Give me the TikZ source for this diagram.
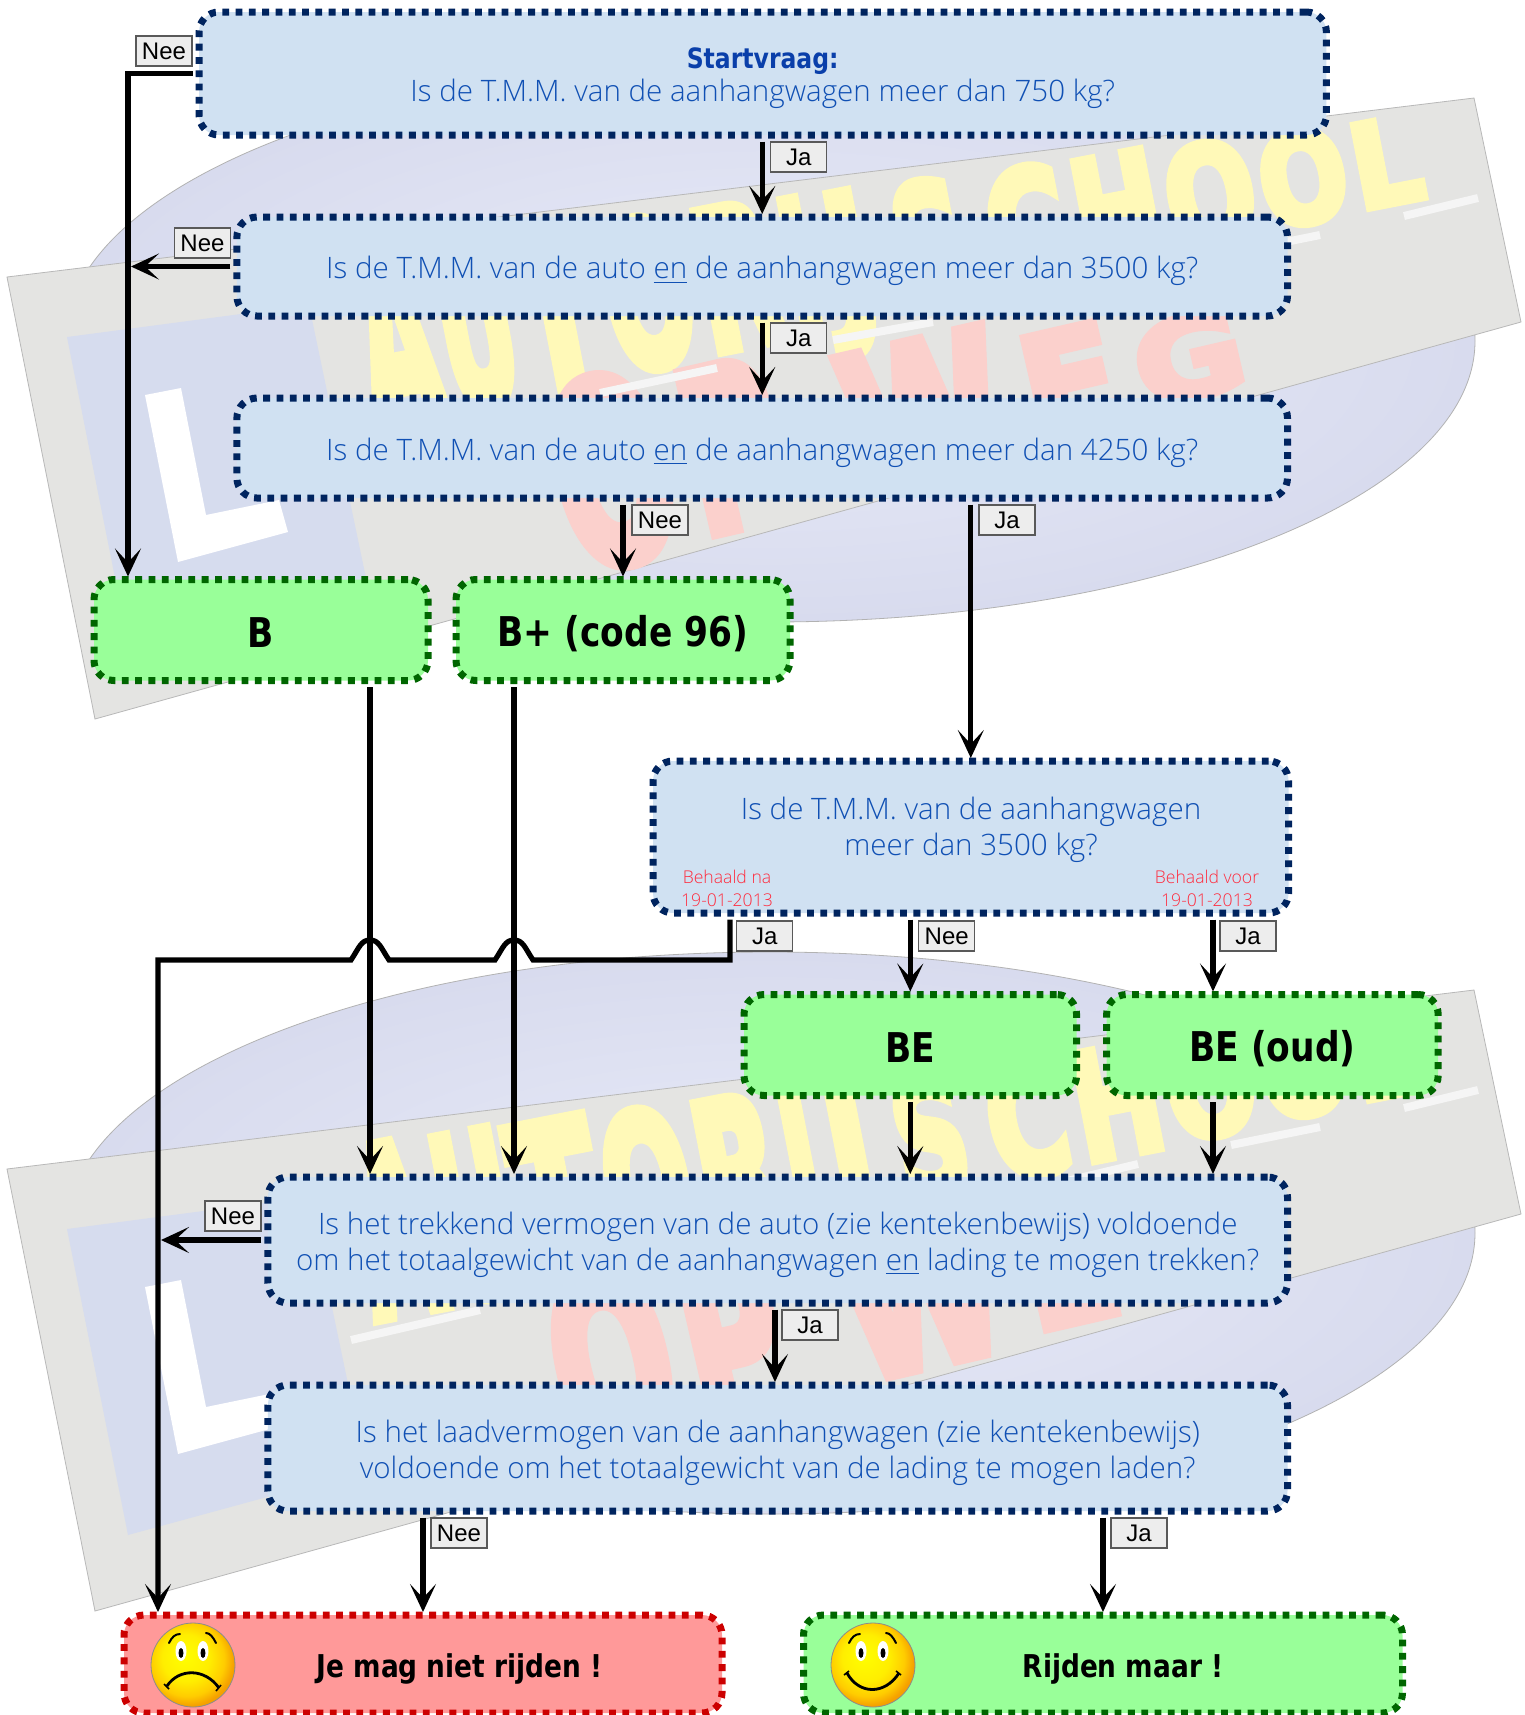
\documentclass[tikz,border=0pt]{standalone}
\usepackage{fontspec}
\usepackage{graphicx}
\usetikzlibrary{arrows.meta,calc}
\setmainfont{Open Sans Light}
\newfontfamily\labf{Liberation Sans}
\newfontfamily\tahb[FakeStretch=0.84]{DejaVu Sans Bold}
\newfontfamily\wmf[FakeBold=6]{DejaVu Sans Bold}
\definecolor{qfill}{HTML}{D0E1F2}
\definecolor{qline}{HTML}{00245F}
\definecolor{qtxt}{HTML}{1050B4}
\definecolor{qbold}{HTML}{0A3FAA}
\definecolor{rsmall}{HTML}{FF2A3C}
\definecolor{gfill}{HTML}{99FF99}
\definecolor{gline}{HTML}{006600}
\definecolor{rfill}{HTML}{FF9999}
\definecolor{rline}{HTML}{CC0000}
\definecolor{wgray}{HTML}{E4E4E2}
\definecolor{wblue}{HTML}{D6DCEE}
\definecolor{wyel}{HTML}{FFF9B8}
\definecolor{wred}{HTML}{FBD0CC}
\definecolor{ein}{HTML}{E9ECF9}
\definecolor{eout}{HTML}{D8DBEE}
\definecolor{sma}{HTML}{FFFF00}
\definecolor{smb}{HTML}{FFEE00}
\definecolor{smc}{HTML}{FFCC00}
\definecolor{smd}{HTML}{F5A000}
\pgfdeclareradialshading{smile}{\pgfpoint{-6bp}{6bp}}{color(0bp)=(sma); color(14bp)=(smb); color(22bp)=(smc); color(27bp)=(smd); color(50bp)=(smd)}
\newcommand\qfont{\fontsize{14.77}{18}\selectfont}
\tikzset{
  boxbase/.style={draw,line width=3.5pt,dash pattern=on 3.4pt off 3.25pt,rounded corners=10pt,outer sep=0pt,inner sep=0pt,align=center},
  qbox/.style={boxbase,draw=qline,fill=qfill},
  gbox/.style={boxbase,draw=gline,fill=gfill},
  rbox/.style={boxbase,draw=rline,fill=rfill},
  lab/.style={draw=black!65,line width=0.7pt,fill=black!7,minimum width=28pt,minimum height=15pt,inner sep=0pt,outer sep=0pt,font=\labf\fontsize{12}{14}\selectfont},
  qtext/.style={text=qtxt,font=\qfont,align=center,inner sep=0pt},
  bigtext/.style={font=\tahb\fontsize{20.5}{24}\selectfont,inner sep=0pt},
  midtext/.style={font=\tahb\fontsize{15.7}{20}\selectfont,inner sep=0pt},
  redtext/.style={text=rsmall,font=\fontsize{8.8}{11.5}\selectfont,align=center,inner sep=0pt},
  conn/.style={line width=2.6pt,-{Stealth[length=14pt,width=13pt,inset=7pt]},shorten >=1.5pt,shorten <=3.25pt},
}
\newcount\wmc
\newcommand\wmY[3]{% x width letter
  \global\advance\wmc by 1
  \pgfmathsetmacro\wby{385-.22*(#1-565)}
  \pgfmathsetlengthmacro\whh{(\wby-(249-.131*(#1-397)))*.5pt*.97}
  \node[name=wy\the\wmc,anchor=base west,inner sep=0pt,rotate=11,text=wyel] at (#1,\wby) {\resizebox{\dimexpr #2pt/2\relax}{\whh}{\wmf #3}};}
\newcommand\wmR[3]{%
  \global\advance\wmc by 1
  \pgfmathsetmacro\wby{481-.287*(#1-892)}
  \pgfmathsetlengthmacro\whh{(\wby-(353-.1*(#1-859)))*.5pt*.97}
  \node[name=wr\the\wmc,anchor=base west,inner sep=0pt,rotate=13,text=wred] at (#1,\wby) {\resizebox{\dimexpr #2pt/2\relax}{\whh}{\wmf #3}};}
\newcommand\wmark[1]{%
\begin{scope}[shift={(0,#1)}]
  \shade[inner color=ein,outer color=eout,draw=black!30,line width=.4pt] (770,341) ellipse [x radius=705,y radius=281];
  \fill[wgray,draw=black!28,line width=.4pt] (7,277) -- (1474,98) -- (1521,322) -- (95,719) -- cycle;
  \fill[wblue] (67,337) -- (309,305) -- (366,578) -- (128,643) -- cycle;
  \fill[white] (145,395) -- (181,388) -- (206,515) -- (279,500) -- (288,532) -- (178,562) -- cycle;
  \wmY{375}{76}{A}\wmY{453}{76}{U}\wmY{530}{84}{T}\wmY{618}{88}{O}\wmY{710}{82}{R}\wmY{796}{34}{I}\wmY{840}{44}{J}\wmY{906}{72}{S}\wmY{998}{80}{C}\wmY{1084}{88}{H}\wmY{1175}{90}{O}\wmY{1268}{88}{O}\wmY{1359}{70}{L}
  \wmR{574}{119}{O}\wmR{702}{98}{P}\wmR{859}{160}{W}\wmR{1034}{95}{E}\wmR{1144}{110}{G}
  \foreach \a/\b/\c/\d in {351/448/480/418,600/393/717/368,833/340/933/322,1050/293/1138/272,1231/253/1320/235,1404/216/1478/198}
    \draw[white!96!black,line width=4pt] (\a,\b) -- (\c,\d);
\end{scope}}
\newcommand\smiley[3]{%
\begin{scope}[shift={(#1,#2)}]
  \shade[shading=smile,draw=black!45,line width=.4pt] (0,0) circle [radius=42];
  \fill[white] (-12,-14) ellipse [x radius=5.5,y radius=10];
  \fill[white] (10,-14) ellipse [x radius=5.5,y radius=10];
  \fill[black] (-12,-12) ellipse [x radius=2.5,y radius=5];
  \fill[black] (10,-12) ellipse [x radius=2.5,y radius=5];
  \draw[line width=1pt,line cap=round] (-24,-22) .. controls (-21,-28) and (-18,-31) .. (-13,-31);
  \draw[line width=1pt,line cap=round] (23,-22) .. controls (20,-28) and (17,-32) .. (13,-32);
  #3
\end{scope}}
\begin{document}
\begin{tikzpicture}[x=.5pt,y=-.5pt]
\useasboundingbox (0,0) rectangle (1525,1715);
\fill[white] (0,0) rectangle (1525,1715);
\begin{scope}
\clip (0,0) rectangle (1525,1715);
\wmark{0}
\wmark{892}
\end{scope}

% questions
\node[qbox,minimum width=563.7pt,minimum height=61.5pt] (q1) at (762.7,73.5) {};
\node[qbox,minimum width=525.3pt,minimum height=49.5pt] (q2) at (762.2,266.5) {};
\node[qbox,minimum width=525.3pt,minimum height=50pt] (q3) at (762.2,448) {};
\node[qbox,minimum width=317.8pt,minimum height=76pt] (q4) at (970.8,837) {};
\node[qbox,minimum width=509.8pt,minimum height=63pt] (q5) at (777.7,1240) {};
\node[qbox,minimum width=509.8pt,minimum height=63pt] (q6) at (777.7,1448) {};
\node[qtext,font=\fontsize{14.77}{16.5}\selectfont] (q1t) at ([yshift=-2.2pt]q1.center) {{\color{qbold}\tahb\fontsize{14}{16.5}\selectfont Startvraag:}\\Is de T.M.M. van de aanhangwagen meer dan 750 kg?};
\node[qtext] (q2t) at ([yshift=-2.4pt]q2.center) {Is de T.M.M. van de auto \underline{en} de aanhangwagen meer dan 3500 kg?};
\node[qtext] (q3t) at ([yshift=-2.2pt]q3.center) {Is de T.M.M. van de auto \underline{en} de aanhangwagen meer dan 4250 kg?};
\node[qtext] (q4t) at (971,830) {Is de T.M.M. van de aanhangwagen\\meer dan 3500 kg?};
\node[redtext] (q4a) at (727,888) {Behaald na\\19-01-2013};
\node[redtext] (q4b) at (1207,888) {Behaald voor\\19-01-2013};
\node[qtext] (q5t) at ([yshift=-2.2pt]q5.center) {Is het trekkend vermogen van de auto (zie kentekenbewijs) voldoende\\om het totaalgewicht van de aanhangwagen \underline{en} lading te mogen trekken?};
\node[qtext] (q6t) at ([yshift=-2.4pt]q6.center) {Is het laadvermogen van de aanhangwagen (zie kentekenbewijs)\\voldoende om het totaalgewicht van de lading te mogen laden?};
% results
\node[gbox,minimum width=167pt,minimum height=50.5pt] (b) at (261,630) {};
\node[gbox,minimum width=167pt,minimum height=50.5pt] (bp) at (623,630) {};
\node[gbox,minimum width=166.3pt,minimum height=50.5pt] (be) at (910.3,1045) {};
\node[gbox,minimum width=165.8pt,minimum height=50.5pt] (beo) at (1272.4,1045) {};
\node[rbox,minimum width=299pt,minimum height=49pt] (no) at (423,1664) {};
\node[gbox,minimum width=299.5pt,minimum height=49pt] (yes) at (1103,1664) {};
\node[bigtext] (bt) at ([yshift=-1.2pt]b.center) {B};
\node[bigtext] (bpt) at ([yshift=-2pt]bp.center) {B+ (code 96)};
\node[bigtext] (bet) at ([yshift=-1.2pt]be.center) {BE};
\node[bigtext] (beot) at ([yshift=-2pt]beo.center) {BE (oud)};
\node[midtext] (not) at (459.5,1669) {Je mag niet rijden !};
\node[midtext] (yest) at (1123,1669) {Rijden maar !};
\smiley{193}{1665}{\draw[line width=1.4pt] (-26,21) .. controls (-14,3) and (12,3) .. (26,23);\draw[line width=.8pt] (-29,19)--(-24,24);\draw[line width=.8pt] (28,20)--(23,26);}
\smiley{873}{1665}{\draw[line width=1.4pt] (-26,8) .. controls (-14,30) and (12,30) .. (26,8);\draw[line width=.8pt] (-29,10)--(-24,6);\draw[line width=.8pt] (28,10)--(23,6);}

% free x-positions
\coordinate (xl) at (128,0);
\coordinate (xb) at (370,0);
\coordinate (xp) at (514,0);
\coordinate (xq) at (730,0);
\coordinate (xe) at (1213,0);
\coordinate (xr) at (158,0);
\coordinate (xm) at (775,0);

% connectors
\draw[conn] (q1.south -| q2.north) -- (q2.north);
\draw[conn] (q2.south) -- (q3.north);
\draw[conn] (q3.south -| bp.north) -- (bp.north);
\draw[conn] (q3.south -| q4.north) -- (q4.north);
\draw[conn] (q1.west) -- (q1.west -| xl) -- (xl |- b.north);
\draw[conn] (q2.west) -- (q2.west -| xl);
\draw[conn] (xb |- b.south) -- (xb |- q5.north);
\draw[conn] (xp |- bp.south) -- (xp |- q5.north);
\draw[conn] (q4.south -| be.north) -- (be.north);
\draw[conn] (xe |- q4.south) -- (xe |- beo.north);
\draw[conn] (be.south) -- (be.south |- q5.north);
\draw[conn] (xe |- beo.south) -- (xe |- q5.north);
\draw[conn] (q5.west) -- (q5.west -| xr);
\draw[conn] (xm |- q5.south) -- (xm |- q6.north);
\draw[conn] (q6.south -| no.north) -- (no.north);
\draw[conn] (q6.south -| yes.north) -- (yes.north);
\draw[conn,line join=miter] (xq |- q4.south) -- (730,960) -- (533,960) .. controls (525,948) and (523,940) .. (514,940) .. controls (505,940) and (503,948) .. (495,960) -- (389,960) .. controls (381,948) and (379,940) .. (370,940) .. controls (361,940) and (359,948) .. (351,960) -- (158,960) -- (xr |- no.north);

% labels
\node[lab] (l1) at (164,51) {Nee};
\node[lab] (l2) at (798.7,157) {Ja};
\node[lab] (l3) at (202.5,243) {Nee};
\node[lab] (l4) at (798.7,338) {Ja};
\node[lab] (l5) at (660,520) {Nee};
\node[lab] (l6) at (1007,520) {Ja};
\node[lab] (l7) at (764.7,936) {Ja};
\node[lab] (l8) at (946.7,936) {Nee};
\node[lab] (l9) at (1248,936) {Ja};
\node[lab] (l10) at (233,1216) {Nee};
\node[lab] (l11) at (810,1325) {Ja};
\node[lab] (l12) at (459,1533) {Nee};
\node[lab] (l13) at (1139,1533) {Ja};
\end{tikzpicture}
\end{document}
